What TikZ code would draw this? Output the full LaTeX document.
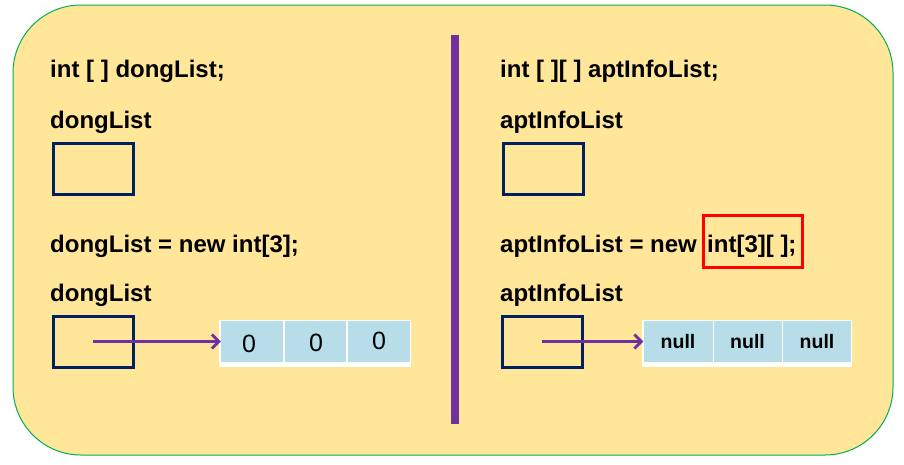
\documentclass[tikz,border=0pt]{standalone}
\usepackage{fontspec}
\setmainfont{Liberation Sans}
\usetikzlibrary{arrows.meta}
\definecolor{bgyellow}{HTML}{FFE699}
\definecolor{framegreen}{HTML}{00B050}
\definecolor{navy}{HTML}{002060}
\definecolor{purp}{HTML}{7030A0}
\definecolor{cellblue}{HTML}{B7DEE8}
\begin{document}
\begin{tikzpicture}[x=1pt,y=-1pt,
  code/.style={anchor=base west,inner sep=0pt,font=\fontsize{24}{28}\selectfont\bfseries},
  refbox/.style={draw=navy,line width=3pt,minimum width=80pt,minimum height=51pt,inner sep=0pt},
  cell/.style={fill=cellblue,inner sep=0pt,minimum height=41pt},
  zero/.style={font=\fontsize{25}{28}\selectfont},
  nul/.style={font=\fontsize{19.5}{22}\selectfont\bfseries},
  ptr/.style={draw=purp,line width=3.5pt,-{Straight Barb[length=7pt,width=14pt,line width=2.8pt]}}]
\useasboundingbox (0,0) rectangle (904,464);
\fill[white] (0,0) rectangle (904,464);
\draw[framegreen,fill=bgyellow,line width=1pt,rounded corners=68pt] (13,5) rectangle (893,455);
\fill[purp] (451,35) rectangle (459,424);
% left side
\node[code] (l1) at (50,77) {int [ ] dongList;};
\node[code] (l2) at (50,128) {dongList};
\node[refbox] (b1) at (93,168.5) {};
\node[code] (l3) at (50,252) {dongList = new int[3];};
\node[code] (l4) at (50,301) {dongList};
\node[refbox] (b2) at (93,341.5) {};
\fill[white] (219,320) rectangle (411,367);
\node[cell,minimum width=62pt] (c1) at (252,341.5) {};
\node[cell,minimum width=61pt] (c2) at (315.5,341.5) {};
\node[cell,minimum width=62pt] (c3) at (379,341.5) {};
\node[zero] at (249,344) {0};
\node[zero] at (316,343) {0};
\node[zero] at (379,341) {0};
\draw[ptr] (b2.center) -- (c1.west);
% right side
\node[code] (r1) at (500,77) {int [ ][ ] aptInfoList;};
\node[code] (r2) at (500,128) {aptInfoList};
\node[refbox] (b3) at (543,168.5) {};
\node[code] (r3) at (500,252) {aptInfoList = new};
\node[code] (r3b) at (707,252) {int[3][ ];};
\node[draw=red,line width=2.5pt,minimum width=99pt,minimum height=52pt,inner sep=0pt] (rb) at (753,241.5) {};
\node[code] (r4) at (500,301) {aptInfoList};
\node[refbox] (b4) at (542,341.5) {};
\fill[white] (642,320) rectangle (852,367);
\node[cell,minimum width=69pt] (d1) at (678,341.5) {};
\node[cell,minimum width=68pt] (d2) at (747.5,341.5) {};
\node[cell,minimum width=68pt] (d3) at (817,341.5) {};
\node[nul] at (d1) {null};
\node[nul] at (d2) {null};
\node[nul] at (d3) {null};
\draw[ptr] (b4.center) -- (d1.west);
\end{tikzpicture}
\end{document}
